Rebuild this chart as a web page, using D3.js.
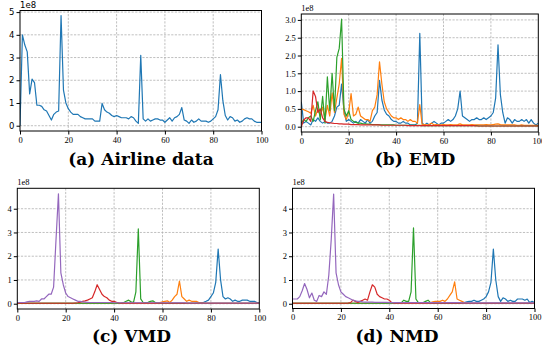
<!DOCTYPE html>
<html>
<head>
<meta charset="utf-8">
<script src="https://cdn.jsdelivr.net/npm/d3@7"></script>
<style>
  html, body { margin: 0; padding: 0; background: #fff; }
  svg { display: block; }
</style>
</head>
<body>
<svg id="fig" width="542" height="354"></svg>
<script>
// Spectral magnitudes (units of 1e8), one value per frequency bin 0..100.
const airline = [
  0.00,4.00,3.55,3.25,1.40,2.05,1.90,0.90,0.90,0.85,
  0.70,0.65,0.45,0.25,0.50,0.60,0.65,4.85,1.57,1.00,
  0.75,0.60,0.50,0.50,0.50,0.40,0.35,0.30,0.30,0.30,
  0.30,0.20,0.20,0.20,0.98,0.70,0.60,0.55,0.45,0.40,
  0.45,0.40,0.35,0.35,0.35,0.30,0.40,0.35,0.20,0.10,
  3.10,0.30,0.20,0.30,0.20,0.25,0.30,0.30,0.25,0.25,
  0.15,0.25,0.35,0.20,0.35,0.40,0.50,0.80,0.25,0.20,
  0.10,0.25,0.15,0.20,0.30,0.20,0.20,0.20,0.15,0.20,
  0.30,0.40,0.70,2.25,1.10,0.45,0.25,0.40,0.35,0.20,
  0.25,0.15,0.20,0.30,0.35,0.30,0.30,0.20,0.15,0.15,
  0.15
];

const emdBlue = [
  0.70,0.10,0.15,0.10,0.05,0.20,0.15,0.25,0.15,0.10,
  0.15,0.10,0.10,0.15,0.30,0.55,0.60,1.20,0.45,0.15,
  0.20,0.15,0.10,0.15,0.10,0.20,0.15,0.10,0.20,0.10,
  0.15,0.30,0.40,1.30,0.75,0.47,0.35,0.30,0.20,0.15,
  0.15,0.10,0.10,0.15,0.10,0.10,0.05,0.05,0.05,0.10,
  2.62,0.10,0.05,0.10,0.05,0.10,0.15,0.10,0.05,0.10,
  0.10,0.15,0.20,0.15,0.20,0.30,0.50,1.00,0.30,0.25,
  0.20,0.15,0.20,0.20,0.25,0.20,0.20,0.25,0.20,0.25,
  0.30,0.40,0.80,2.30,0.90,0.40,0.10,0.25,0.20,0.10,
  0.20,0.15,0.15,0.20,0.15,0.20,0.10,0.20,0.10,0.05,
  0.10
];
const emdOrange = [
  0.50,0.48,0.45,0.42,0.38,0.60,0.30,0.50,0.30,0.55,
  0.20,0.60,0.30,0.95,0.40,0.80,1.20,1.92,0.35,0.20,
  0.40,0.93,0.30,0.35,0.55,0.30,0.25,0.20,0.20,0.15,
  0.45,0.55,0.90,1.82,1.20,0.70,0.50,0.40,0.30,0.25,
  0.25,0.20,0.25,0.20,0.20,0.15,0.20,0.15,0.15,0.10,
  0.62,0.05,0.06,0.05,0.06,0.10,0.05,0.06,0.05,0.05,
  0.06,0.05,0.05,0.06,0.05,0.05,0.06,0.08,0.05,0.05,
  0.05,0.05,0.06,0.05,0.05,0.05,0.05,0.05,0.06,0.05,
  0.05,0.06,0.07,0.08,0.06,0.05,0.05,0.05,0.05,0.05,
  0.05,0.04,0.04,0.05,0.04,0.04,0.04,0.04,0.04,0.04,
  0.03
];
const emdGreen = [
  0.10,0.20,0.15,0.25,0.30,0.15,0.45,0.70,0.20,0.85,
  0.10,1.40,0.45,1.50,0.45,1.95,2.20,3.02,0.50,0.30,
  0.45,0.20,0.15,0.12,0.10,0.10,0.08,0.08,0.07,0.07,
  0.06,0.06,0.06,0.05,0.05,0.05,0.05,0.05,0.05,0.05,
  0.04,0.04,0.04,0.04,0.04,0.04,0.04,0.04,0.04,0.04,
  0.04,0.03,0.03,0.03,0.03,0.03,0.03,0.03,0.03,0.03,
  0.03,0.03,0.03,0.03,0.03,0.03,0.03,0.03,0.03,0.03,
  0.03,0.03,0.03,0.03,0.03,0.02,0.02,0.02,0.02,0.02,
  0.02,0.02,0.02,0.02,0.02,0.02,0.02,0.02,0.02,0.02,
  0.02,0.02,0.02,0.02,0.02,0.02,0.02,0.02,0.02,0.02,
  0.02
];
const emdRed = [
  0.00,0.19,0.25,0.25,0.15,1.00,0.85,0.40,0.50,0.25,
  0.15,0.12,0.11,0.10,0.09,0.09,0.08,0.08,0.07,0.07,
  0.07,0.06,0.06,0.06,0.06,0.05,0.05,0.05,0.05,0.05,
  0.05,0.05,0.05,0.05,0.04,0.04,0.04,0.04,0.04,0.04,
  0.04,0.04,0.04,0.04,0.04,0.03,0.03,0.03,0.03,0.03,
  0.03,0.03,0.03,0.03,0.03,0.03,0.03,0.03,0.03,0.03,
  0.03,0.03,0.03,0.03,0.03,0.03,0.03,0.03,0.03,0.03,
  0.03,0.03,0.03,0.03,0.02,0.02,0.02,0.02,0.02,0.02,
  0.02,0.02,0.02,0.02,0.02,0.02,0.02,0.02,0.02,0.02,
  0.02,0.02,0.02,0.02,0.02,0.02,0.02,0.02,0.02,0.02,
  0.02
];

const vmdBlue = [
  0.02,0.02,0.02,0.02,0.02,0.02,0.02,0.02,0.02,0.02,
  0.02,0.02,0.02,0.02,0.02,0.02,0.02,0.02,0.02,0.02,
  0.02,0.02,0.02,0.02,0.02,0.02,0.02,0.02,0.02,0.02,
  0.02,0.02,0.02,0.02,0.02,0.02,0.02,0.02,0.02,0.02,
  0.02,0.02,0.02,0.02,0.02,0.02,0.02,0.02,0.02,0.02,
  0.02,0.02,0.02,0.02,0.02,0.02,0.02,0.02,0.02,0.02,
  0.02,0.02,0.02,0.02,0.02,0.02,0.02,0.02,0.02,0.02,
  0.02,0.02,0.02,0.02,0.03,0.04,0.05,0.06,0.10,0.15,
  0.30,0.45,0.90,2.30,1.00,0.30,0.20,0.25,0.20,0.10,
  0.15,0.10,0.10,0.15,0.15,0.15,0.10,0.10,0.10,0.05,
  0.05
];
const vmdOrange = [
  0.02,0.02,0.02,0.02,0.02,0.02,0.02,0.02,0.02,0.02,
  0.02,0.02,0.02,0.02,0.02,0.02,0.02,0.02,0.02,0.02,
  0.02,0.02,0.02,0.02,0.02,0.02,0.02,0.02,0.02,0.02,
  0.02,0.02,0.02,0.02,0.02,0.02,0.02,0.02,0.02,0.02,
  0.02,0.02,0.02,0.02,0.02,0.02,0.02,0.02,0.02,0.02,
  0.02,0.02,0.02,0.02,0.02,0.02,0.02,0.02,0.03,0.05,
  0.08,0.10,0.12,0.05,0.15,0.30,0.40,0.95,0.30,0.20,
  0.10,0.15,0.10,0.10,0.10,0.05,0.04,0.03,0.02,0.02,
  0.02,0.02,0.02,0.02,0.02,0.02,0.02,0.02,0.02,0.02,
  0.02,0.02,0.02,0.02,0.02,0.02,0.02,0.02,0.02,0.02,
  0.02
];
const vmdGreen = [
  0.02,0.02,0.02,0.02,0.02,0.02,0.02,0.02,0.02,0.02,
  0.02,0.02,0.02,0.02,0.02,0.02,0.02,0.02,0.02,0.02,
  0.02,0.02,0.02,0.02,0.02,0.02,0.02,0.02,0.02,0.02,
  0.02,0.02,0.02,0.02,0.02,0.02,0.02,0.02,0.02,0.02,
  0.02,0.02,0.02,0.03,0.05,0.10,0.15,0.08,0.05,0.50,
  3.15,0.20,0.05,0.05,0.06,0.10,0.12,0.05,0.03,0.02,
  0.02,0.02,0.02,0.02,0.02,0.02,0.02,0.02,0.02,0.02,
  0.02,0.02,0.02,0.02,0.02,0.02,0.02,0.02,0.02,0.02,
  0.02,0.02,0.02,0.02,0.02,0.02,0.02,0.02,0.02,0.02,
  0.02,0.02,0.02,0.02,0.02,0.02,0.02,0.02,0.02,0.02,
  0.02
];
const vmdRed = [
  0.02,0.02,0.02,0.02,0.02,0.02,0.02,0.02,0.02,0.02,
  0.02,0.02,0.02,0.02,0.02,0.02,0.02,0.02,0.02,0.02,
  0.02,0.02,0.02,0.02,0.03,0.04,0.06,0.10,0.12,0.15,
  0.20,0.25,0.50,0.80,0.60,0.40,0.30,0.25,0.15,0.10,
  0.10,0.06,0.03,0.02,0.02,0.02,0.02,0.02,0.02,0.02,
  0.02,0.02,0.02,0.02,0.02,0.02,0.02,0.02,0.02,0.02,
  0.02,0.02,0.02,0.02,0.02,0.02,0.02,0.02,0.02,0.02,
  0.02,0.02,0.02,0.02,0.02,0.02,0.02,0.02,0.02,0.02,
  0.02,0.02,0.02,0.02,0.02,0.02,0.02,0.02,0.02,0.02,
  0.02,0.02,0.02,0.02,0.02,0.02,0.02,0.02,0.02,0.02,
  0.02
];
const vmdPurple = [
  0.05,0.05,0.05,0.05,0.08,0.10,0.10,0.10,0.12,0.10,
  0.20,0.20,0.30,0.40,0.40,0.70,2.70,4.63,1.30,0.80,
  0.45,0.30,0.25,0.20,0.15,0.10,0.10,0.08,0.07,0.06,
  0.05,0.05,0.05,0.05,0.05,0.05,0.05,0.05,0.05,0.05,
  0.04,0.04,0.04,0.04,0.04,0.04,0.04,0.04,0.04,0.04,
  0.04,0.04,0.04,0.04,0.04,0.04,0.04,0.04,0.04,0.04,
  0.04,0.04,0.04,0.04,0.04,0.04,0.04,0.04,0.04,0.04,
  0.03,0.03,0.03,0.03,0.03,0.03,0.03,0.03,0.03,0.03,
  0.03,0.03,0.03,0.03,0.03,0.03,0.03,0.03,0.03,0.03,
  0.03,0.03,0.03,0.03,0.03,0.03,0.03,0.03,0.03,0.03,
  0.03
];

const nmdBlue = [
  0.02,0.02,0.02,0.02,0.02,0.02,0.02,0.02,0.02,0.02,
  0.02,0.02,0.02,0.02,0.02,0.02,0.02,0.02,0.02,0.02,
  0.02,0.02,0.02,0.02,0.02,0.02,0.02,0.02,0.02,0.02,
  0.02,0.02,0.02,0.02,0.02,0.02,0.02,0.02,0.02,0.02,
  0.02,0.02,0.02,0.02,0.02,0.02,0.02,0.02,0.02,0.02,
  0.02,0.02,0.02,0.02,0.02,0.02,0.02,0.02,0.02,0.02,
  0.02,0.02,0.02,0.02,0.02,0.02,0.02,0.02,0.02,0.02,
  0.03,0.05,0.08,0.10,0.10,0.15,0.10,0.10,0.15,0.20,
  0.30,0.50,0.90,2.30,1.00,0.30,0.10,0.25,0.20,0.10,
  0.15,0.10,0.10,0.20,0.20,0.20,0.15,0.20,0.05,0.10,
  0.05
];
const nmdOrange = [
  0.02,0.02,0.02,0.02,0.02,0.02,0.02,0.02,0.02,0.02,
  0.02,0.02,0.02,0.02,0.02,0.02,0.02,0.02,0.02,0.02,
  0.02,0.02,0.02,0.02,0.02,0.02,0.02,0.02,0.02,0.02,
  0.02,0.02,0.02,0.02,0.02,0.02,0.02,0.02,0.02,0.02,
  0.02,0.02,0.02,0.02,0.02,0.03,0.03,0.03,0.03,0.03,
  0.03,0.03,0.03,0.04,0.04,0.04,0.04,0.05,0.08,0.10,
  0.10,0.10,0.15,0.10,0.20,0.35,0.50,0.92,0.20,0.15,
  0.10,0.05,0.04,0.02,0.02,0.02,0.02,0.02,0.02,0.02,
  0.02,0.02,0.02,0.02,0.02,0.02,0.02,0.02,0.02,0.02,
  0.02,0.02,0.02,0.02,0.02,0.02,0.02,0.02,0.02,0.02,
  0.02
];
const nmdGreen = [
  0.02,0.02,0.02,0.02,0.02,0.02,0.02,0.02,0.02,0.02,
  0.02,0.02,0.02,0.02,0.02,0.02,0.02,0.02,0.02,0.02,
  0.02,0.02,0.02,0.02,0.02,0.02,0.02,0.02,0.02,0.02,
  0.02,0.02,0.02,0.02,0.02,0.02,0.02,0.02,0.02,0.02,
  0.02,0.02,0.02,0.02,0.03,0.05,0.15,0.10,0.10,0.50,
  3.20,0.20,0.05,0.05,0.05,0.10,0.15,0.05,0.03,0.02,
  0.02,0.02,0.02,0.02,0.02,0.02,0.02,0.02,0.02,0.02,
  0.02,0.02,0.02,0.02,0.02,0.02,0.02,0.02,0.02,0.02,
  0.02,0.02,0.02,0.02,0.02,0.02,0.02,0.02,0.02,0.02,
  0.02,0.02,0.02,0.02,0.02,0.02,0.02,0.02,0.02,0.02,
  0.02
];
const nmdRed = [
  0.02,0.02,0.02,0.02,0.02,0.02,0.02,0.02,0.02,0.02,
  0.02,0.02,0.02,0.02,0.02,0.02,0.02,0.02,0.02,0.02,
  0.02,0.02,0.02,0.03,0.05,0.15,0.10,0.05,0.10,0.15,
  0.20,0.15,0.50,0.80,0.70,0.40,0.30,0.25,0.20,0.20,
  0.15,0.05,0.03,0.02,0.02,0.02,0.02,0.02,0.02,0.02,
  0.02,0.02,0.02,0.02,0.02,0.02,0.02,0.02,0.02,0.02,
  0.02,0.02,0.02,0.02,0.02,0.02,0.02,0.02,0.02,0.02,
  0.02,0.02,0.02,0.02,0.02,0.02,0.02,0.02,0.02,0.02,
  0.02,0.02,0.02,0.02,0.02,0.02,0.02,0.02,0.02,0.02,
  0.02,0.02,0.02,0.02,0.02,0.02,0.02,0.02,0.02,0.02,
  0.02
];
const nmdPurple = [
  0.20,0.20,0.20,0.30,0.55,0.85,0.60,0.25,0.45,0.15,
  0.10,0.35,0.30,0.50,0.40,1.20,2.70,4.62,1.30,0.80,
  0.50,0.40,0.30,0.25,0.20,0.15,0.12,0.10,0.10,0.08,
  0.07,0.07,0.07,0.07,0.06,0.06,0.06,0.06,0.06,0.06,
  0.05,0.05,0.05,0.05,0.05,0.05,0.05,0.05,0.05,0.05,
  0.05,0.05,0.05,0.05,0.05,0.05,0.05,0.05,0.05,0.05,
  0.05,0.05,0.05,0.05,0.05,0.05,0.05,0.05,0.05,0.05,
  0.04,0.04,0.04,0.04,0.04,0.04,0.04,0.04,0.04,0.04,
  0.04,0.04,0.04,0.04,0.04,0.04,0.04,0.04,0.04,0.04,
  0.04,0.04,0.04,0.04,0.04,0.04,0.04,0.04,0.04,0.04,
  0.04
];

const xTicks = [0, 20, 40, 60, 80, 100];
const yTicksA = [0, 1, 2, 3, 4, 5];
const yTicksB = [0, 0.5, 1.0, 1.5, 2.0, 2.5, 3.0];
const yTicksCD = [0, 1, 2, 3, 4];
const captions = ["(a) Airline data", "(b) EMD", "(c) VMD", "(d) NMD"];

const C = { blue: "#1f77b4", orange: "#ff7f0e", green: "#2ca02c", red: "#d62728", purple: "#9467bd" };

const svg = d3.select("#fig");
const serif = "'Liberation Serif', 'Times New Roman', serif";
const sans = "'DejaVu Sans', sans-serif";

function drawPanel(p, idx) {
  const x = d3.scaleLinear().domain([0, 100]).range([p.l, p.r]);
  const y = d3.scaleLinear().domain(p.yDomain).range([p.b, p.t]);
  const g = svg.append("g");

  // grid
  g.append("g").selectAll("line.vx").data(xTicks.filter(v => v > 0 && v < 100)).join("line")
    .attr("x1", d => x(d)).attr("x2", d => x(d)).attr("y1", p.t).attr("y2", p.b)
    .attr("stroke", "#b0b0b0").attr("stroke-width", 0.8).attr("stroke-dasharray", "2.2,1.4");
  g.append("g").selectAll("line.hy").data(p.yTicks).join("line")
    .attr("x1", p.l).attr("x2", p.r).attr("y1", d => y(d)).attr("y2", d => y(d))
    .attr("stroke", "#b0b0b0").attr("stroke-width", 0.8).attr("stroke-dasharray", "2.2,1.4");

  // series
  const clipId = "clip" + idx;
  svg.append("clipPath").attr("id", clipId).append("rect")
    .attr("x", p.l).attr("y", p.t).attr("width", p.r - p.l).attr("height", p.b - p.t);
  const line = d3.line().x((d, i) => x(i)).y(d => y(d));
  const lines = g.append("g").attr("clip-path", `url(#${clipId})`);
  p.series.forEach(s => {
    lines.append("path").datum(s.data).attr("d", line)
      .attr("fill", "none").attr("stroke", s.color).attr("stroke-width", 1.2)
      .attr("stroke-linejoin", "round");
  });

  // frame
  g.append("rect").attr("x", p.l).attr("y", p.t).attr("width", p.r - p.l).attr("height", p.b - p.t)
    .attr("fill", "none").attr("stroke", "#000").attr("stroke-width", 1);

  // axes
  const ax = g.append("g").attr("transform", `translate(0,${p.b})`)
    .call(d3.axisBottom(x).tickValues(xTicks).tickSize(3.5).tickPadding(2).tickFormat(d3.format("d")));
  ax.select(".domain").remove();
  ax.selectAll("text").attr("font-family", serif).attr("font-size", 8.5).attr("fill", "#000");

  const ay = g.append("g").attr("transform", `translate(${p.l},0)`)
    .call(d3.axisLeft(y).tickValues(p.yTicks).tickSize(3.5).tickPadding(2).tickFormat(p.yFmt));
  ay.select(".domain").remove();
  ay.selectAll("text").attr("font-family", p.yFont).attr("font-size", 8.5).attr("fill", "#000");

  // exponent label
  g.append("text").attr("x", p.l).attr("y", p.t - 3).text("1e8")
    .attr("font-family", p.yFont).attr("font-size", 8.5).attr("fill", "#000");

  // caption
  g.append("text").attr("x", p.cx).attr("y", p.cy).attr("text-anchor", "middle")
    .attr("font-family", "'DejaVu Serif', serif").attr("font-weight", "bold")
    .attr("font-size", 17).attr("fill", "#000").text(captions[idx]);
}

const panels = [
  { l: 20, r: 261.5, t: 10.5, b: 131, yDomain: [-0.233, 5.07], yTicks: yTicksA, yFmt: d3.format("d"),
    yFont: sans, cx: 141, cy: 165,
    series: [{ data: airline, color: C.blue }] },
  { l: 301.3, r: 538.3, t: 14, b: 132, yDomain: [-0.149, 3.166], yTicks: yTicksB, yFmt: d3.format(".1f"),
    yFont: serif, cx: 415, cy: 165,
    series: [{ data: emdBlue, color: C.blue }, { data: emdOrange, color: C.orange },
             { data: emdGreen, color: C.green }, { data: emdRed, color: C.red }] },
  { l: 17.3, r: 259.3, t: 188.3, b: 309, yDomain: [-0.223, 4.86], yTicks: yTicksCD, yFmt: d3.format("d"),
    yFont: serif, cx: 131.5, cy: 342,
    series: [{ data: vmdBlue, color: C.blue }, { data: vmdOrange, color: C.orange },
             { data: vmdGreen, color: C.green }, { data: vmdRed, color: C.red },
             { data: vmdPurple, color: C.purple }] },
  { l: 292.5, r: 534.5, t: 188.3, b: 308.5, yDomain: [-0.2, 4.86], yTicks: yTicksCD, yFmt: d3.format("d"),
    yFont: serif, cx: 397, cy: 342,
    series: [{ data: nmdBlue, color: C.blue }, { data: nmdOrange, color: C.orange },
             { data: nmdGreen, color: C.green }, { data: nmdRed, color: C.red },
             { data: nmdPurple, color: C.purple }] }
];

panels.forEach(drawPanel);
</script>
</body>
</html>
